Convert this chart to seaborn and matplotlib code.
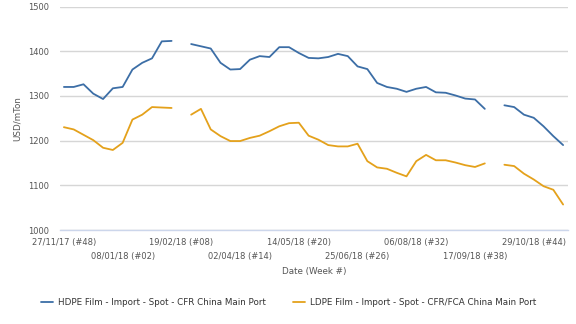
import numpy as np
import pandas as pd
import matplotlib
matplotlib.use("Agg")
import matplotlib.pyplot as plt
import seaborn as sns

nan = np.nan

# Weekly prices, USD/mTon; week 0 = 27/11/17 (#48)
weeks = list(range(52))
hdpe = [1320, 1320, 1326, 1305, 1293, 1317, 1320, 1359, 1374, 1384, 1422, 1423,
        nan,
        1416, 1411, 1406, 1374, 1359, 1360, 1381, 1389, 1387, 1409, 1409, 1396,
        1385, 1384, 1387, 1394, 1389, 1366, 1360, 1329, 1320, 1316, 1309, 1316,
        1320, 1308, 1307, 1301, 1294, 1292, 1271,
        nan,
        1279, 1275, 1258, 1251, 1232, 1210, 1190]
ldpe = [1230, 1225, 1213, 1201, 1184, 1179, 1195, 1247, 1258, 1275, 1274, 1273,
        nan,
        1258, 1271, 1225, 1210, 1199, 1199, 1206, 1211, 1221, 1232, 1239, 1240,
        1211, 1202, 1190, 1187, 1187, 1193, 1154, 1140, 1137, 1128, 1120, 1154,
        1168, 1156, 1156, 1151, 1145, 1141, 1149,
        nan,
        1146, 1143, 1126, 1113, 1098, 1090, 1057]

series_names = ["HDPE Film - Import - Spot - CFR China Main Port",
                "LDPE Film - Import - Spot - CFR/FCA China Main Port"]
colors = ["#3c6ea6", "#e4a11b"]

tick_weeks = list(range(0, 52, 3))
tick_labels = {0: "27/11/17 (#48)", 6: "08/01/18 (#02)", 12: "19/02/18 (#08)",
               18: "02/04/18 (#14)", 24: "14/05/18 (#20)", 30: "25/06/18 (#26)",
               36: "06/08/18 (#32)", 42: "17/09/18 (#38)", 48: "29/10/18 (#44)"}

# Long table; a segment id breaks each line where a week is missing
frames = []
for name, vals in zip(series_names, [hdpe, ldpe]):
    v = pd.Series(vals, dtype=float)
    seg = v.isna().cumsum()
    df = pd.DataFrame({"week": weeks, "price": v, "product": name, "segment": seg})
    frames.append(df.dropna())
data = pd.concat(frames, ignore_index=True)

sns.set_theme(style="white")
plt.rcParams["font.family"] = ["DejaVu Sans"]

fig = plt.figure(figsize=(5.76, 3.24), dpi=100)
ax = fig.add_axes([60 / 576, 1 - 230 / 324, 508 / 576, (230 - 6.5) / 324])

sns.lineplot(data=data, x="week", y="price", hue="product", units="segment",
             estimator=None, palette=colors, hue_order=series_names,
             linewidth=1.3, ax=ax)

ax.set_xlim(-0.4, 51.5)
ax.set_ylim(1000, 1500)
ax.set_yticks(range(1000, 1501, 100))
ax.grid(axis="y", color="#d6d6d6", linewidth=1.0)
ax.grid(axis="x", visible=False)
for side in ["top", "right", "left"]:
    ax.spines[side].set_visible(False)
ax.spines["bottom"].set_color("#ccd6eb")
ax.spines["bottom"].set_linewidth(1.0)

ax.set_xticks(tick_weeks)
ax.set_xticklabels([tick_labels.get(w, "") for w in tick_weeks])
ax.tick_params(axis="x", length=4, width=0.8, color="#ccd6eb",
               labelsize=6, labelcolor="#555555", pad=2)
ax.tick_params(axis="y", length=0, labelsize=6, labelcolor="#555555", pad=8)
for w, tick in zip(tick_weeks, ax.xaxis.get_major_ticks()):
    if w % 12 == 6:
        tick.set_pad(12)

ax.set_xlabel("Date (Week #)", fontsize=6.3, color="#555555", labelpad=4)
ax.set_ylabel("USD/mTon", fontsize=6.3, color="#555555", labelpad=4)

sns.move_legend(ax, "upper center", bbox_to_anchor=(0.45, -0.27), ncol=2,
                frameon=False, title=None, fontsize=6.3, handlelength=1.4,
                columnspacing=3.0, handletextpad=0.6)
for txt in ax.get_legend().get_texts():
    txt.set_color("#333333")

fig.savefig("out.png", dpi=100, facecolor="white")
